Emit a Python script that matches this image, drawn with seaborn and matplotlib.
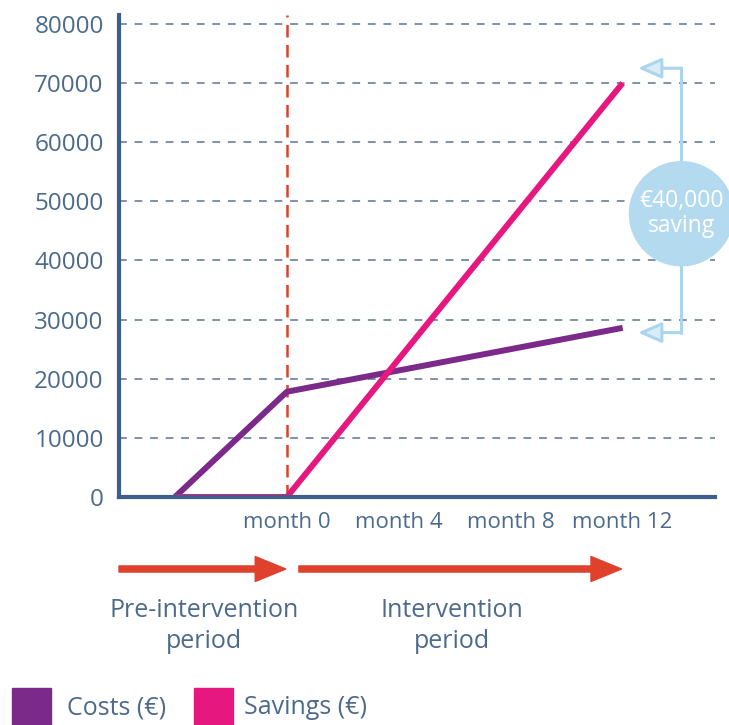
import matplotlib
matplotlib.use("Agg")
import matplotlib.pyplot as plt
import seaborn as sns
import pandas as pd
from matplotlib.patches import Ellipse, Rectangle

# ---- data ----
months = [-4, 0, 12]
costs = [0, 17800, 28600]
savings = [0, 0, 70000]
series_names = ["Costs (€)", "Savings (€)"]
y_ticks = [0, 10000, 20000, 30000, 40000, 50000, 60000, 70000, 80000]
x_label_pos = [0, 4, 8, 12]
x_labels = ["month 0", "month 4", "month 8", "month 12"]
x_tick_marks = [-2, 2, 6, 10]
period_labels = ["Pre-intervention\nperiod", "Intervention\nperiod"]
saving_text = "€40,000\nsaving"
saving_top, saving_bottom = 72500, 27800

PURPLE = "#7b2a8a"
PINK = "#e6187f"
AXBLUE = "#3d5d8c"
TXT = "#4c6a8c"
GRID = "#7f90a8"
RED = "#e0412d"
LBLUE = "#abd5ec"

df = pd.DataFrame({
    "month": months * 2,
    "value": costs + savings,
    "series": [series_names[0]] * len(months) + [series_names[1]] * len(months),
})

sns.set_style("white")
plt.rcParams["font.family"] = ["Open Sans", "DejaVu Sans"]

fig = plt.figure(figsize=(7.29, 7.25), dpi=100)
ax = fig.add_axes([119 / 729, 1 - 497 / 725, (715 - 119) / 729, (497 - 15) / 725])

sns.lineplot(data=df, x="month", y="value", hue="series",
             palette=[PURPLE, PINK], linewidth=4.3, ax=ax, legend=False,
             zorder=5)
for l in ax.get_lines():
    l.set_solid_capstyle("butt")

ax.set_xlim(-6, 15.3)
ax.set_ylim(0, 81500)

# gridlines
for v in y_ticks[1:]:
    ax.axhline(v, color=GRID, lw=1.4, ls=(0, (4, 4)), zorder=1)
ax.axvline(0, color=RED, lw=1.8, ls=(0, (5, 3)), zorder=2)

# axes styling
for s in ["top", "right"]:
    ax.spines[s].set_visible(False)
for s in ["left", "bottom"]:
    ax.spines[s].set_color(AXBLUE)
    ax.spines[s].set_linewidth(3)
    ax.spines[s].set_zorder(6)

ax.set_yticks(y_ticks)
ax.set_yticklabels([str(v) for v in y_ticks])
ax.tick_params(axis="y", length=0, pad=11, labelsize=17.5, labelcolor=TXT)

ax.set_xticks(x_tick_marks)
ax.set_xticklabels([])
ax.tick_params(axis="x", which="major", length=5, width=2.5, color=AXBLUE,
               direction="out")
ax.set_xticks(x_label_pos, minor=True)
ax.set_xticklabels(x_labels, minor=True)
ax.tick_params(axis="x", which="minor", length=0, pad=11, labelsize=16,
               labelcolor=TXT)
ax.set_xlabel("")
ax.set_ylabel("")

# saving bracket
bx = 14.07
ax.plot([bx, bx], [saving_bottom, saving_top], color=LBLUE, lw=2.2, zorder=3,
        clip_on=False)
for yv in (saving_top, saving_bottom):
    ax.annotate("", xy=(12.55, yv), xytext=(bx + 0.04, yv),
                arrowprops=dict(arrowstyle="-|>,head_length=0.8,head_width=0.35",
                                color=LBLUE, fc="#d8edf8", lw=2.2,
                                shrinkA=0, shrinkB=0, mutation_scale=18),
                zorder=3, annotation_clip=False)
ax.add_patch(Ellipse((14.1, 47900), width=104 / 28, height=104 / 59.1 * 10000,
                     color="#b4daef", zorder=4, clip_on=False))
ax.text(14.1, 47900, saving_text, color="white", fontsize=16.5, ha="center",
        va="center", linespacing=1.05, zorder=5)

# period arrows below axis
tr = ax.get_xaxis_transform()
yarr = (497 - 569) / 482
for x0, x1 in [(-6, -0.04), (0.43, 11.96)]:
    ax.annotate("", xy=(x1, yarr), xytext=(x0, yarr), xycoords=tr,
                arrowprops=dict(arrowstyle="simple,head_length=1.1,head_width=0.9,tail_width=0.22",
                                color=RED, shrinkA=0, shrinkB=0, mutation_scale=20),
                annotation_clip=False)
fig.text(204 / 729, 1 - 626 / 725, period_labels[0], ha="center", va="center",
         fontsize=18, color=TXT, linespacing=1.3)
fig.text(452 / 729, 1 - 626 / 725, period_labels[1], ha="center", va="center",
         fontsize=18, color=TXT, linespacing=1.3)

# legend
for (x0, col, name, tx) in [(12, PURPLE, series_names[0], 67),
                            (194, PINK, series_names[1], 244)]:
    fig.patches.append(Rectangle((x0 / 729, 0), 39 / 729, 37 / 725,
                                 transform=fig.transFigure, color=col))
    fig.text(tx / 729, 1 - 708 / 725, name, ha="left", va="center",
             fontsize=18, color=TXT)

fig.savefig("out.png", dpi=100)
